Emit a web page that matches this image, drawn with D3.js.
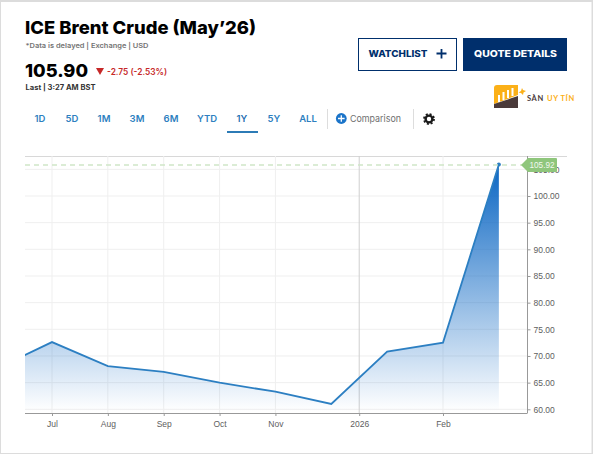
<!DOCTYPE html>
<html>
<head>
<meta charset="utf-8">
<script src="https://cdn.jsdelivr.net/npm/d3@7/dist/d3.min.js"></script>
<style>
html, body { margin: 0; padding: 0; background: #fff; overflow: hidden; }
svg { display: block; }
.head { font-family: Inter, sans-serif; }
.chart text { font-family: "Liberation Sans", Arial, sans-serif; font-size: 8.5px; fill: #5e5e5e; }
</style>
</head>
<body>
<div id="chart"></div>
<script>
var months = ['Jun', 'Jul', 'Aug', 'Sep', 'Oct', 'Nov', 'Dec', 'Jan', 'Feb', 'Mar'];
var prices = [67.6, 72.6, 68.1, 67.0, 65.0, 63.3, 61.0, 70.8, 72.5, 105.92];
var yTicks = [60, 65, 70, 75, 80, 85, 90, 95, 100, 105];
var xTickLabels = ['Jul', 'Aug', 'Sep', 'Oct', 'Nov', '2026', 'Feb'];
var xTickSpots = [1, 2, 3, 4, 5, 6.5, 8];
var ranges = ['1D', '5D', '1M', '3M', '6M', 'YTD', '1Y', '5Y', 'ALL'];
var rangeSpots = [40, 72, 104, 137, 171, 207, 242, 274, 308];

var width = 593, height = 454;
var left = 25, right = 527.5, top_ = 156, bottom = 413;

var svg = d3.select('#chart').append('svg')
    .attr('width', width)
    .attr('height', height);

// page frame
svg.append('rect').attr('width', width).attr('height', height).attr('fill', '#dcdcdc');
svg.append('rect').attr('x', 1).attr('y', 2).attr('width', 590.5).attr('height', 451).attr('fill', '#fff');

// header
var head = svg.append('g').attr('class', 'head');
head.append('text').attr('x', 25).attr('y', 33.5).text('ICE Brent Crude (May\u201926)')
    .attr('font-size', 18).attr('font-weight', 800).attr('fill', '#000')
    .attr('textLength', 231).attr('lengthAdjust', 'spacingAndGlyphs');
head.append('text').attr('x', 25.5).attr('y', 48).text('*Data is delayed | Exchange | USD')
    .attr('font-size', 6.8).attr('font-weight', 600).attr('fill', '#747474')
    .attr('textLength', 123).attr('lengthAdjust', 'spacingAndGlyphs');
head.append('text').attr('x', 25).attr('y', 77).text('105.90')
    .attr('font-size', 18).attr('font-weight', 800).attr('fill', '#000')
    .attr('textLength', 63).attr('lengthAdjust', 'spacingAndGlyphs');
head.append('path').attr('d', 'M96,68H104L100,75Z').attr('fill', '#c62828');
head.append('text').attr('x', 107).attr('y', 74.5).text('-2.75 (-2.53%)')
    .attr('font-size', 8.5).attr('font-weight', 600).attr('fill', '#c62828')
    .attr('textLength', 60).attr('lengthAdjust', 'spacingAndGlyphs');
head.append('text').attr('x', 25.5).attr('y', 90).text('Last | 3:27 AM BST')
    .attr('font-size', 7).attr('font-weight', 700).attr('fill', '#333')
    .attr('textLength', 70).attr('lengthAdjust', 'spacingAndGlyphs');

// buttons
head.append('rect').attr('x', 358.5).attr('y', 38.5).attr('width', 98).attr('height', 32)
    .attr('fill', '#fff').attr('stroke', '#002f6c');
head.append('text').attr('x', 368.5).attr('y', 57).text('WATCHLIST')
    .attr('font-size', 9).attr('font-weight', 800).attr('fill', '#002f6c')
    .attr('textLength', 59).attr('lengthAdjust', 'spacingAndGlyphs');
head.append('path').attr('d', 'M441.5,49V58.5M436.5,53.5H446.5').attr('stroke', '#002f6c').attr('stroke-width', 1.8);
head.append('rect').attr('x', 463).attr('y', 38).attr('width', 104).attr('height', 33).attr('fill', '#002f6c');
head.append('text').attr('x', 474).attr('y', 57).text('QUOTE DETAILS')
    .attr('font-size', 9).attr('font-weight', 800).attr('fill', '#fff')
    .attr('textLength', 83).attr('lengthAdjust', 'spacingAndGlyphs');

// logo
var logo = svg.append('g');
logo.append('path').attr('d', 'M494,88Q494,85 497,85H518V95L494,104Z').attr('fill', '#fbb018');
logo.append('path').attr('d', 'M494,108V104L518,96V108Z').attr('fill', '#4a3a3a');
logo.append('path').attr('d', 'M499,102V95M503.5,100V92M508,98V90M512.5,96V88').attr('stroke', '#fff').attr('stroke-width', 2);
logo.append('path').attr('d', 'M522,88L523,90L526,91L523.5,92.5L523,95L521,93L518.5,92.5L521,91Z').attr('fill', '#fbb018');
logo.append('text').attr('x', 527).attr('y', 100.7).text('SÀN')
    .attr('font-family', 'Lato, sans-serif').attr('font-size', 7.5).attr('font-weight', 700).attr('letter-spacing', 0.6).attr('fill', '#4a3a3a');
logo.append('text').attr('x', 547).attr('y', 100.7).text('UY TÍN')
    .attr('font-family', 'Lato, sans-serif').attr('font-size', 7.5).attr('font-weight', 700).attr('letter-spacing', 0.6).attr('fill', '#fbb018');

// range tabs
head.selectAll('.range').data(ranges).enter().append('text')
    .attr('class', 'range')
    .attr('x', function(d, i) { return rangeSpots[i]; })
    .attr('y', 122)
    .attr('text-anchor', 'middle')
    .attr('font-size', 9.5)
    .attr('font-weight', 600)
    .attr('fill', function(d) { return d === '1Y' ? '#1f6fb2' : '#2e7fc0'; })
    .text(function(d) { return d; });
head.append('rect').attr('x', 227).attr('y', 131).attr('width', 31).attr('height', 2).attr('fill', '#2c7bb6');
head.append('line').attr('x1', 327.5).attr('x2', 327.5).attr('y1', 109).attr('y2', 129).attr('stroke', '#ddd');
head.append('circle').attr('cx', 341.3).attr('cy', 118.5).attr('r', 5.4).attr('fill', '#1b74c9');
head.append('path').attr('d', 'M341.3,115.2V121.8M338,118.5H344.6').attr('stroke', '#fff').attr('stroke-width', 1.3);
head.append('text').attr('x', 350).attr('y', 122).text('Comparison')
    .attr('font-size', 9.3).attr('fill', '#6f6f6f')
    .attr('textLength', 51).attr('lengthAdjust', 'spacingAndGlyphs');
head.append('line').attr('x1', 413.5).attr('x2', 413.5).attr('y1', 109).attr('y2', 129).attr('stroke', '#ddd');
head.append('circle').attr('cx', 429).attr('cy', 119).attr('r', 3.4).attr('fill', 'none')
    .attr('stroke', '#1a1a1a').attr('stroke-width', 2.4);
head.append('circle').attr('cx', 429).attr('cy', 119).attr('r', 5).attr('fill', 'none')
    .attr('stroke', '#1a1a1a').attr('stroke-width', 1.8).attr('stroke-dasharray', '2 1.93');

// scales
var x = d3.scaleLinear().domain([1, 8]).range([52, 443]);
var y = d3.scaleLinear().domain([60, 100]).range([409.3, 196]);

var chart = svg.append('g').attr('class', 'chart');

var defs = svg.append('defs');
var grad = defs.append('linearGradient').attr('id', 'fade')
    .attr('gradientUnits', 'userSpaceOnUse')
    .attr('x1', 0).attr('x2', 0).attr('y1', y(105.92)).attr('y2', bottom - 2);
grad.append('stop').attr('offset', 0).attr('stop-color', '#0b66c3');
grad.append('stop').attr('offset', 1).attr('stop-color', '#0b66c3').attr('stop-opacity', 0);
defs.append('clipPath').attr('id', 'plot').append('rect')
    .attr('x', left).attr('y', top_).attr('width', right - left).attr('height', bottom - top_);

// grid
chart.append('line').attr('x1', left).attr('x2', 567).attr('y1', top_ + 0.5).attr('y2', top_ + 0.5).attr('stroke', '#d8d8d8');
chart.selectAll('.hgrid').data(yTicks).enter().append('line')
    .attr('class', 'hgrid')
    .attr('x1', left).attr('x2', right)
    .attr('y1', function(d) { return y(d); })
    .attr('y2', function(d) { return y(d); })
    .attr('stroke', '#efefef');
chart.selectAll('.vgrid').data(xTickSpots).enter().append('line')
    .attr('class', 'vgrid')
    .attr('x1', function(d) { return x(d); })
    .attr('x2', function(d) { return x(d); })
    .attr('y1', top_).attr('y2', bottom)
    .attr('stroke', function(d) { return d === 6.5 ? '#cfcfcf' : '#efefef'; });

// area + line
var pts = prices.map(function(p, i) { return [i, p]; });
var marks = chart.append('g').attr('clip-path', 'url(#plot)');
marks.append('path').datum(pts)
    .attr('fill', 'url(#fade)')
    .attr('d', d3.area().x(function(d) { return x(d[0]); }).y1(function(d) { return y(d[1]); }).y0(bottom - 2));
marks.append('path').datum(pts)
    .attr('fill', 'none')
    .attr('stroke', '#2c7fc2')
    .attr('stroke-width', 1.8)
    .attr('d', d3.line().x(function(d) { return x(d[0]); }).y(function(d) { return y(d[1]); }));

var lastPt = pts[pts.length - 1];
chart.append('circle').attr('cx', x(lastPt[0])).attr('cy', y(lastPt[1])).attr('r', 2).attr('fill', '#2c7fc2');

// last price guide
chart.append('line').attr('x1', left).attr('x2', right - 5)
    .attr('y1', y(lastPt[1]) + 0.5).attr('y2', y(lastPt[1]) + 0.5)
    .attr('stroke', '#cfe6c7').attr('stroke-width', 1.5).attr('stroke-dasharray', '5 4');

// axes
var xAxis = d3.axisBottom(x)
    .tickValues(xTickSpots)
    .tickSize(3)
    .tickPadding(5)
    .tickFormat(function(d, i) { return xTickLabels[i]; });
var yAxis = d3.axisRight(y)
    .tickValues(yTicks)
    .tickSize(3)
    .tickPadding(3)
    .tickFormat(d3.format('.2f'));

var xg = chart.append('g').attr('transform', 'translate(0,' + bottom + ')').call(xAxis);
xg.select('.domain').attr('d', 'M' + left + ',0.5H' + right).attr('stroke', '#999');
xg.selectAll('.tick line').attr('stroke', '#999');

var yg = chart.append('g').attr('transform', 'translate(' + right + ',0)').call(yAxis);
yg.select('.domain').attr('d', 'M0,' + top_ + 'V' + bottom).attr('stroke', '#999');
yg.selectAll('.tick line').attr('stroke', '#999');

// the 105 label sits under the flag
yg.selectAll('.tick').filter(function(d) { return d === 105; }).select('line').remove();

// last price flag
var fy = y(lastPt[1]) + 0.5;
chart.append('path')
    .attr('d', 'M521,' + fy + 'L528,' + (fy - 7) + 'H556Q557,' + (fy - 7) + ' 557,' + (fy - 6) + 'V' + (fy + 6) + 'Q557,' + (fy + 7) + ' 556,' + (fy + 7) + 'H528Z')
    .attr('fill', '#8fc67c');
chart.append('text').attr('x', 529.5).attr('y', fy + 3).text(lastPt[1].toFixed(2)).style('fill', '#f2f8ef').style('font-size', '8.2px');
</script>
</body>
</html>
